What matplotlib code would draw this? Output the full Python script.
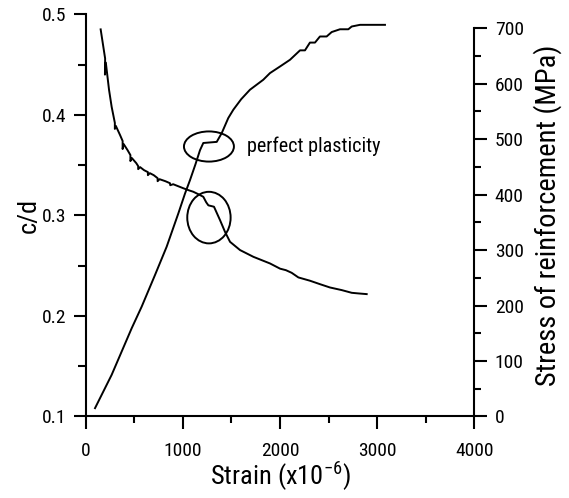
import matplotlib
matplotlib.use('Agg')
import matplotlib.pyplot as plt
import matplotlib.ticker as ticker
from matplotlib.patches import Ellipse

# ── Data ──────────────────────────────────────────────────────────────────────
# stress of reinforcement (right axis)
stress_strain = [96, 267, 370, 473, 576, 713, 833, 953, 1022, 1073, 1130, 1176,
                 1210, 1348, 1400, 1467, 1519, 1600, 1690, 1827, 1896, 2000,
                 2102, 2205, 2256, 2307, 2359, 2410, 2479, 2531, 2616, 2702,
                 2737, 2822, 3079]
stress = [15, 75, 117, 159, 198, 255, 306, 366, 402, 426, 455, 480,
          493, 495, 511, 538, 553, 572, 589, 607, 619, 631,
          643, 660, 660, 674, 674, 685, 685, 693, 698, 698,
          703, 706, 706]

# neutral axis depth ratio c/d (left axis)
cd_strain = [154, 200, 198, 207, 240, 267, 300, 300, 310, 353, 380, 380, 390,
             430, 460, 460, 475, 520, 540, 540, 560, 600, 640, 640, 660, 700,
             740, 740, 760, 820, 867, 870, 900, 1004, 1060, 1107, 1160, 1210,
             1240, 1262, 1320, 1382, 1433, 1485, 1588, 1725, 1896, 2000, 2060,
             2119, 2188, 2308, 2410, 2513, 2634, 2737, 2804, 2891]
cd = [0.485, 0.456, 0.440, 0.452, 0.425, 0.408, 0.392, 0.386, 0.389, 0.380,
      0.374, 0.366, 0.371, 0.365, 0.360, 0.354, 0.357, 0.352, 0.349, 0.346,
      0.348, 0.345, 0.343, 0.340, 0.342, 0.340, 0.337, 0.334, 0.336, 0.334,
      0.332, 0.330, 0.331, 0.327, 0.325, 0.3235, 0.321, 0.3185, 0.313,
      0.310, 0.3086, 0.2953, 0.2837, 0.2737, 0.2655, 0.2588, 0.2522, 0.2470,
      0.2455, 0.2429, 0.2383, 0.235, 0.2316, 0.2283, 0.2257, 0.223, 0.2224,
      0.2217]

# ── Style ─────────────────────────────────────────────────────────────────────
FONT = ['Roboto Condensed', 'Archivo Narrow', 'DejaVu Sans']
plt.rcParams.update({
    "font.family":      FONT,
    "mathtext.fontset": "custom",
    "mathtext.rm":      FONT[0],
    "mathtext.it":      FONT[0],
    "axes.linewidth":   1.5,
})

fig = plt.figure(figsize=(5.69, 4.98), dpi=100)
ax = fig.add_axes([0.1506, 0.1637, 0.6833, 0.8076])
ax2 = ax.twinx()

ax.plot(cd_strain, cd, color="black", lw=1.4)
ax2.plot(stress_strain, stress, color="black", lw=1.4)

ax.set_xlim(0, 4000)
ax.set_ylim(0.1, 0.5)
ax2.set_ylim(0, 725)

for s in ["top", "right"]:
    ax.spines[s].set_visible(False)
for s in ["top", "left", "bottom"]:
    ax2.spines[s].set_visible(False)
ax2.spines["right"].set_bounds(0, 700)

ax.xaxis.set_major_locator(ticker.MultipleLocator(1000))
ax.xaxis.set_minor_locator(ticker.MultipleLocator(500))
ax.yaxis.set_major_locator(ticker.MultipleLocator(0.1))
ax.yaxis.set_minor_locator(ticker.MultipleLocator(0.05))
ax.yaxis.set_major_formatter(ticker.FormatStrFormatter("%.1f"))
ax2.yaxis.set_major_locator(ticker.FixedLocator(range(0, 701, 100)))
ax2.yaxis.set_minor_locator(ticker.FixedLocator(range(50, 701, 100)))

ax.tick_params(axis="x", which="major", direction="out", length=9.5, width=1.5,
               labelsize=14, pad=9, top=False)
ax.tick_params(axis="x", which="minor", direction="out", length=5, width=1.5, top=False)
ax.tick_params(axis="y", which="major", direction="out", length=9, width=1.5,
               labelsize=14, pad=5, right=False)
ax.tick_params(axis="y", which="minor", direction="out", length=5.5, width=1.5, right=False)
ax2.tick_params(axis="y", which="major", direction="out", length=9.5, width=1.5,
                labelsize=14, pad=5)
ax2.tick_params(axis="y", which="minor", direction="out", length=5, width=1.5)

ax.set_xlabel("Strain (x10$^{-6}$)", fontsize=19, labelpad=0)
ax.set_ylabel("c/d", fontsize=19, labelpad=1)
ax2.set_ylabel("Stress of reinforcement (MPa)", fontsize=20.5, labelpad=7)

# annotations
ax.add_patch(Ellipse((1268, 0.3685), 514, 0.030, fill=False, lw=1.4, color="black"))
ax.add_patch(Ellipse((1268, 0.2978), 446, 0.0513, fill=False, lw=1.4, color="black"))
ax.text(1660, 0.3685, "perfect plasticity", fontsize=14.5, ha="left", va="center")

fig.savefig("out.png", dpi=100)
